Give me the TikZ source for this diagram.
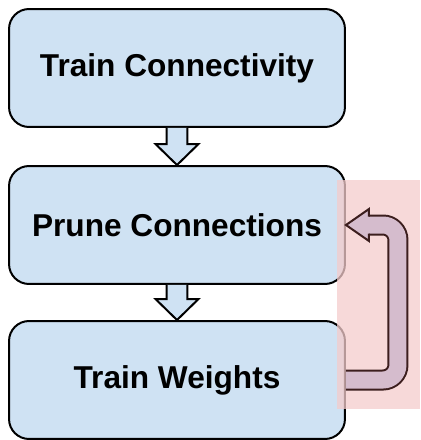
\documentclass[tikz,border=0pt]{standalone}
\usepackage{fontspec}
\setmainfont{Liberation Sans}
\usetikzlibrary{calc}

\definecolor{boxblue}{HTML}{CFE2F3}
\definecolor{pinkbg}{HTML}{F4CCCC}
\definecolor{loopfill}{HTML}{D5BCCD}
\definecolor{loopedge}{HTML}{3C1E1E}

\begin{document}
\begin{tikzpicture}[x=0.02cm, y=-0.02cm,
  box/.style={draw, line width=0.04cm, rounded corners=0.4cm, fill=boxblue, minimum width=6.72cm, minimum height=2.36cm, font=\fontsize{18}{22}\selectfont\bfseries},
  blockarr/.style={draw, line width=0.04cm, fill=boxblue, line join=miter},
  loopband/.style={line width=0.04cm, draw=loopedge, double=loopfill, double distance=0.34cm, rounded corners=0.3cm}
]
\useasboundingbox (0,0) rectangle (421,440);
\node[box] (train) at (177,68) {Train Connectivity};
\node[box] (prune) at (177,225) {Prune Connections};
\node[box] (weights) at (177,380) {Train Weights};
% block arrows between the steps
\draw[blockarr] let \p1=(train.south), \p2=(prune.north) in
  (\x1-0.21cm,\y1) -- (\x1-0.21cm,\y2+0.42cm) -- (\x1-0.43cm,\y2+0.42cm) -- (\x2,\y2)
  -- (\x1+0.43cm,\y2+0.42cm) -- (\x1+0.21cm,\y2+0.42cm) -- (\x1+0.21cm,\y1);
\draw[blockarr] let \p1=(prune.south), \p2=(weights.north) in
  (\x1-0.21cm,\y1) -- (\x1-0.21cm,\y2+0.42cm) -- (\x1-0.43cm,\y2+0.42cm) -- (\x2,\y2)
  -- (\x1+0.43cm,\y2+0.42cm) -- (\x1+0.21cm,\y2+0.42cm) -- (\x1+0.21cm,\y1);
% loop back
\fill[pinkbg, fill opacity=0.75] (337,180) rectangle (420,409);
\coordinate (headbase) at ($(prune.east)+(0.46cm,0)$);
\draw[loopband] (weights.east) -| ($(headbase)+(0.58cm,0)$) -- (headbase);
\filldraw[fill=loopfill, draw=loopedge, line width=0.04cm] let \p1=(headbase), \p2=(prune.east) in
  (\x1,\y1+0.17cm) -- (\x1,\y1+0.32cm) -- (\x2,\y2) -- (\x1,\y1-0.32cm) -- (\x1,\y1-0.17cm);
\end{tikzpicture}
\end{document}
